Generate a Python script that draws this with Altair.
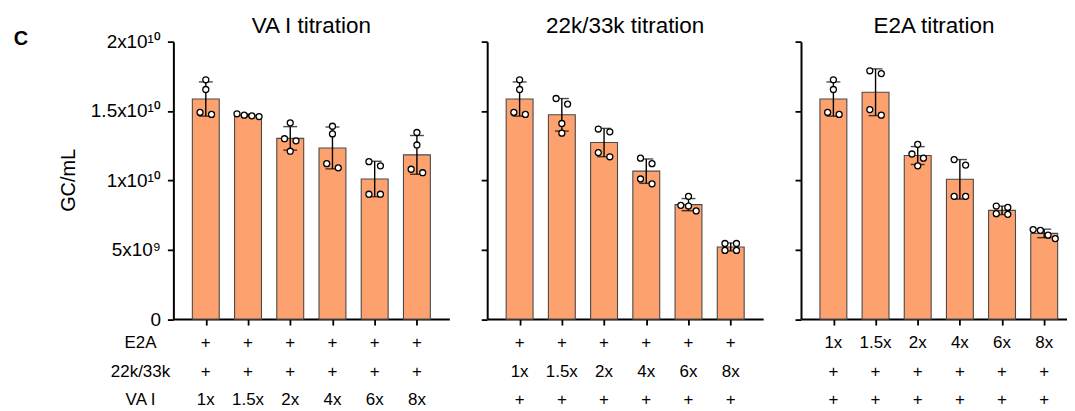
import altair as alt
import pandas as pd

# ---------------- data (GC/mL, in units of 1e9) ----------------
conditions = ["1x", "1.5x", "2x", "4x", "6x", "8x"]
panel_titles = ["VA I titration", "22k/33k titration", "E2A titration"]
row_headers = ["E2A", "22k/33k", "VA I"]
titrated_row = [2, 1, 0]          # which row carries the titration labels in each panel
y_ticks = [0, 5, 10, 15, 20]
y_tick_labels = ["0", "5x10⁹", "1x10¹⁰", "1.5x10¹⁰", "2x10¹⁰"]

vai_reps = [
    [17.25, 16.55, 14.75, 14.9],
    [14.65, 14.8, 14.6, 14.7],
    [14.15, 13.0, 12.85, 12.1],
    [13.9, 13.35, 10.9, 11.2],
    [11.35, 11.05, 9.0, 9.0],
    [13.45, 12.55, 10.55, 10.8],
]
k2233_reps = [
    [17.25, 16.55, 14.75, 14.9],
    [15.9, 15.5, 14.1, 13.4],
    [13.7, 13.5, 11.7, 12.0],
    [11.6, 11.2, 9.75, 10.1],
    [8.85, 8.2, 8.15, 7.8],
    [5.45, 5.45, 4.95, 4.95],
]
e2a_reps = [
    [17.25, 16.55, 14.75, 14.9],
    [17.9, 17.7, 14.7, 15.1],
    [12.6, 11.9, 11.6, 11.05],
    [11.5, 11.1, 8.85, 8.85],
    [8.15, 8.05, 7.55, 7.6],
    [6.45, 6.4, 5.8, 6.05],
]
all_reps = [vai_reps, k2233_reps, e2a_reps]

# ---------------- layout constants ----------------
FONT = "Liberation Sans"
BAR_FILL = "#FDA16E"
BAR_STROKE = "#4a4a4a"
H = 278.5
STEP = 277 / 6.3
WIDTHS = [277, 277, 267]
ROW_Y = [H + 23.8, H + 53.2, H + 80.8]


def jitter_px(vals, tol=0.42):
    order = sorted(range(len(vals)), key=lambda i: -vals[i])
    clusters = []
    for i in order:
        if clusters and vals[clusters[-1][-1]] - vals[i] < tol:
            clusters[-1].append(i)
        else:
            clusters.append([i])
    spreads = {1: [0], 2: [-6, 6], 3: [-8, 0, 8], 4: [-11.5, -4, 4, 11.5]}
    out = [0.0] * len(vals)
    for c in clusters:
        for k, i in enumerate(c):
            out[i] = spreads[len(c)][k]
    return out


label_expr = "".join(
    f"datum.value == {v} ? '{t}' : " for v, t in zip(y_ticks, y_tick_labels)
) + "''"


def panel(p):
    W = WIDTHS[p]
    rows = []
    for ci, reps in enumerate(all_reps[p]):
        jit = jitter_px(reps)
        for v, j in zip(reps, jit):
            rows.append({"idx": ci, "cond": conditions[ci], "v": v, "xj": ci + j / STEP})
    df = pd.DataFrame(rows)

    xs = alt.Scale(domain=[-0.65, -0.65 + W / STEP], nice=False, zero=False)
    ys = alt.Scale(domain=[0, 20], nice=False)
    x_axis = alt.Axis(values=list(range(6)), labels=False, title=None, grid=False,
                      tickSize=6, tickWidth=1.8, tickColor="black",
                      domainColor="black", domainWidth=2)
    y_axis = alt.Axis(values=y_ticks, labels=(p == 0), labelExpr=label_expr, title=None,
                      grid=False, tickSize=6, tickWidth=1.8, tickColor="black",
                      domainColor="black", domainWidth=2, labelFont=FONT,
                      labelFontSize=19, labelColor="black", labelPadding=7)
    X = lambda f: alt.X(f, scale=xs, axis=x_axis)
    Y = lambda f: alt.Y(f, scale=ys, axis=y_axis)

    bars = alt.Chart(df).mark_bar(size=27, fill=BAR_FILL, stroke=BAR_STROKE,
                                  strokeWidth=1.1, orient="vertical").encode(
        x=X("idx:Q"), y=Y("mean(v):Q"))

    err = alt.Chart(df).transform_aggregate(
        m="mean(v)", s="stdev(v)", groupby=["idx"]
    ).transform_calculate(lo="datum.m - datum.s", hi="datum.m + datum.s")
    rule = err.mark_rule(color="black", strokeWidth=1.4).encode(
        x=X("idx:Q"), y=Y("lo:Q"), y2="hi:Q")
    cap_hi = err.mark_tick(orient="horizontal", size=14, thickness=1.4, color="black").encode(
        x=X("idx:Q"), y=Y("hi:Q"))
    cap_lo = err.mark_tick(orient="horizontal", size=14, thickness=1.4, color="black").encode(
        x=X("idx:Q"), y=Y("lo:Q"))

    pts = alt.Chart(df).mark_point(shape="circle", size=36, filled=False, fill="white",
                                   fillOpacity=1, stroke="black", strokeWidth=1.3,
                                   opacity=1).encode(x=X("xj:Q"), y=Y("v:Q"))

    # condition label rows below the axis
    lab_rows = []
    for r in range(3):
        for ci, c in enumerate(conditions):
            lab_rows.append({"idx": ci, "r": r, "t": c if r == titrated_row[p] else "+"})
    ldf = pd.DataFrame(lab_rows)
    label_layers = []
    for r in range(3):
        label_layers.append(
            alt.Chart(ldf).transform_filter(f"datum.r == {r}").mark_text(
                font=FONT, fontSize=17, baseline="middle", align="center", color="black"
            ).encode(x=X("idx:Q"), y=alt.value(ROW_Y[r]), text="t:N")
        )

    title = alt.Chart(pd.DataFrame({"t": [panel_titles[p]]})).mark_text(
        font=FONT, fontSize=22.5, baseline="alphabetic", align="center", color="black"
    ).encode(x=alt.value(W / 2), y=alt.value(-8.3), text="t:N")

    layers = [bars, rule, cap_hi, cap_lo, pts] + label_layers + [title]

    if p == 0:
        hdr = alt.Chart(pd.DataFrame({"t": row_headers, "r": [0, 1, 2]}))
        for r in range(3):
            layers.append(
                hdr.transform_filter(f"datum.r == {r}").mark_text(
                    font=FONT, fontSize=17, baseline="middle", align="center", color="black"
                ).encode(x=alt.value(-33), y=alt.value(ROW_Y[r]), text="t:N")
            )
        layers.append(
            alt.Chart(pd.DataFrame({"t": ["GC/mL"]})).mark_text(
                font=FONT, fontSize=20, angle=270, baseline="middle", align="center",
                color="black"
            ).encode(x=alt.value(-105), y=alt.value(H / 2), text="t:N")
        )
        layers.append(
            alt.Chart(pd.DataFrame({"t": ["C"]})).mark_text(
                font=FONT, fontSize=20, fontWeight="bold", baseline="middle",
                align="center", color="black"
            ).encode(x=alt.value(-153), y=alt.value(-2.5), text="t:N")
        )

    return alt.layer(*layers).properties(width=W, height=H)


chart = alt.hconcat(panel(0), panel(1), panel(2), spacing=31).configure_view(
    stroke=None
).properties(padding={"left": 5, "top": 6, "right": 0, "bottom": 0})

chart.save("out.html", embed_options={"renderer": "svg", "actions": False})
